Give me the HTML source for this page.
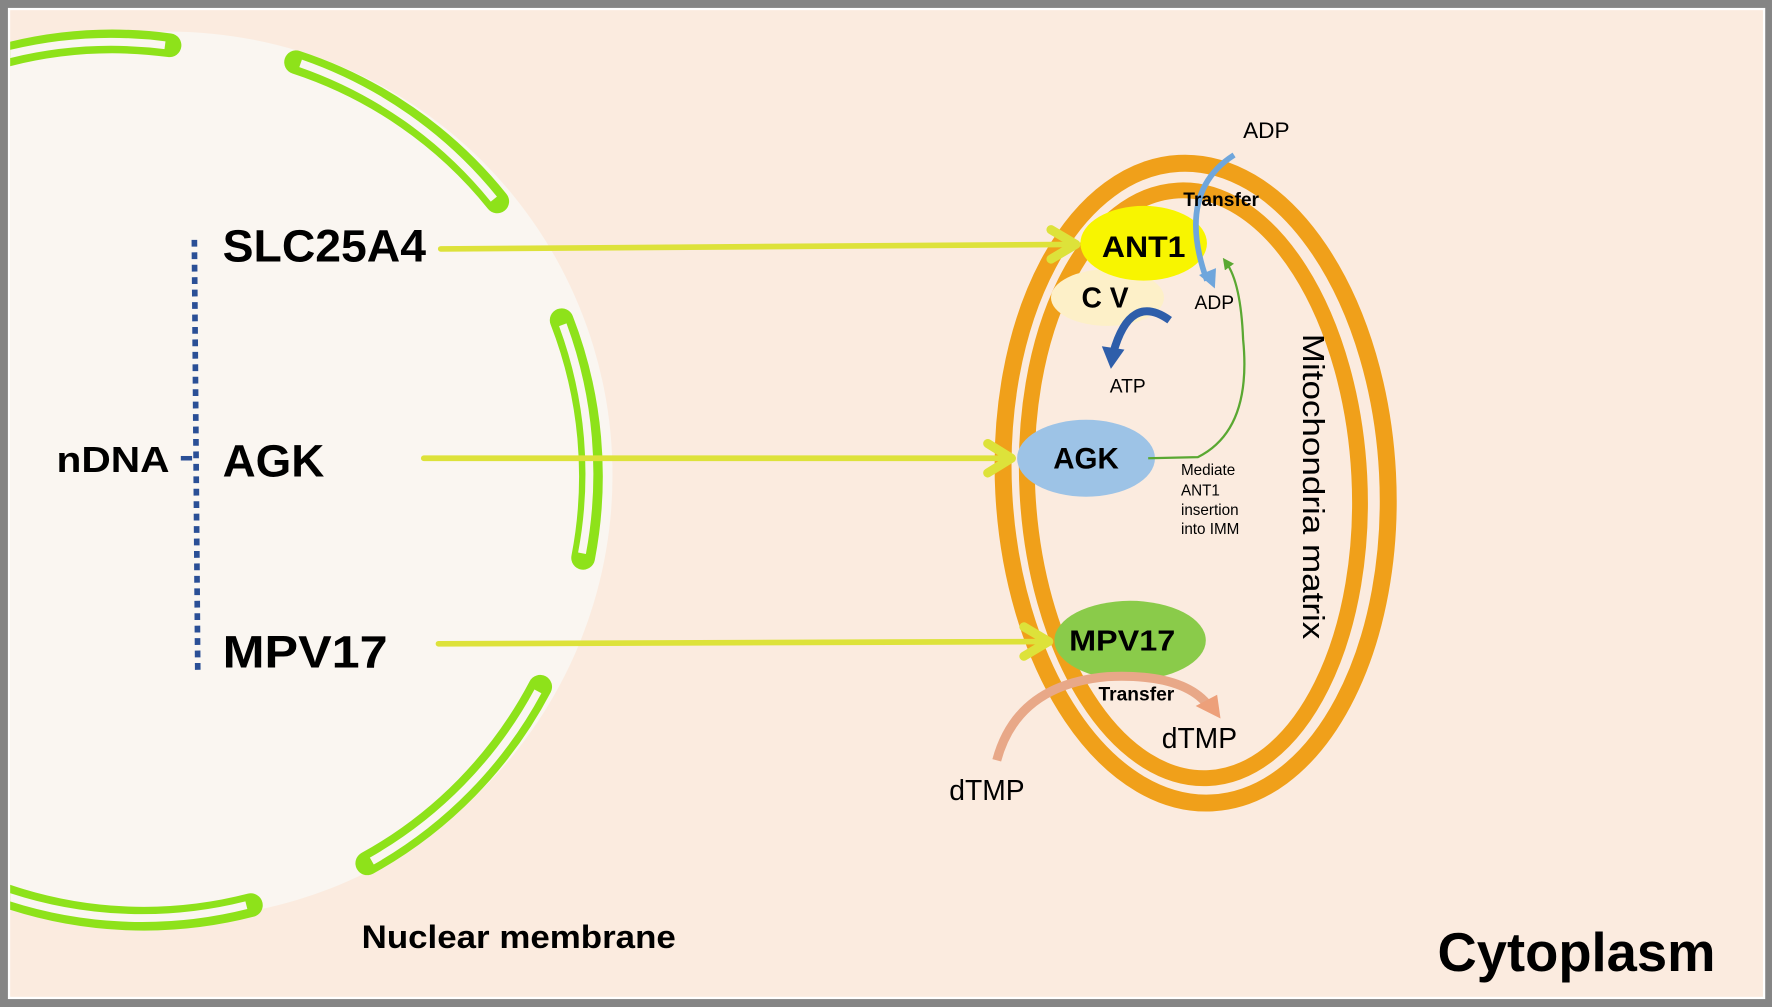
<!DOCTYPE html>
<html><head><meta charset="utf-8"><style>
html,body{margin:0;padding:0;background:#fff;}
svg{display:block;}
text{font-family:"Liberation Sans",sans-serif;fill:#000;}
</style></head><body>
<svg width="1772" height="1007" viewBox="0 0 1568 890" preserveAspectRatio="none" xmlns="http://www.w3.org/2000/svg">
<defs>
<marker id="g" markerWidth="10" markerHeight="10" refX="5" refY="5" orient="auto" markerUnits="userSpaceOnUse"><path d="M0,0 L10,5 L0,10 z" fill="#5aa832"/></marker>
</defs>
<rect x="0" y="0" width="1568" height="890" fill="#858585"/>
<rect x="7" y="7" width="1555" height="876" fill="#fff"/>
<rect x="9" y="9" width="1551" height="872" fill="#fbebdf"/>
<clipPath id="c"><rect x="9" y="9" width="1551" height="872"/></clipPath>
<g clip-path="url(#c)">
<circle cx="150" cy="420" r="392" fill="#faf6f1"/>
<g fill="none" stroke-linecap="round">
<g stroke="#8ee21a" stroke-width="21">
<path d="M0,50 A380,380 0 0 1 150,40"/>
<path d="M262,55 A380,380 0 0 1 440,178"/>
<path d="M497,283 A380,380 0 0 1 516,493"/>
<path d="M478,607 A380,380 0 0 1 325,763"/>
<path d="M0,790 A380,380 0 0 0 222,800"/>
</g>
<g stroke="#faf6f1" stroke-width="7" stroke-linecap="butt">
<path d="M0,50 A380,380 0 0 1 146,40"/>
<path d="M266,56 A380,380 0 0 1 437,176"/>
<path d="M498,287 A380,380 0 0 1 515,489"/>
<path d="M476,611 A380,380 0 0 1 329,761"/>
<path d="M0,790 A380,380 0 0 0 218,800"/>
</g>
</g>
</g>
<line x1="172" y1="212" x2="175" y2="594" stroke="#2a4f96" stroke-width="5" stroke-dasharray="6,5"/>
<line x1="160" y1="405" x2="170" y2="405" stroke="#2a4f96" stroke-width="4"/>
<text x="50" y="417" font-size="32" font-weight="bold" textLength="100" lengthAdjust="spacingAndGlyphs">nDNA</text>
<text x="197" y="231" font-size="40" font-weight="bold" textLength="180" lengthAdjust="spacingAndGlyphs">SLC25A4</text>
<text x="197" y="421" font-size="40" font-weight="bold" textLength="90" lengthAdjust="spacingAndGlyphs">AGK</text>
<text x="197" y="590" font-size="40" font-weight="bold" textLength="146" lengthAdjust="spacingAndGlyphs">MPV17</text>
<text x="320" y="838" font-size="29" font-weight="bold" textLength="278" lengthAdjust="spacingAndGlyphs">Nuclear membrane</text>
<text x="1272" y="858" font-size="48" font-weight="bold" textLength="246" lengthAdjust="spacingAndGlyphs">Cytoplasm</text>
<ellipse cx="1058" cy="427" rx="170" ry="283" fill="none" stroke="#f0a01a" stroke-width="15" transform="rotate(-3 1058 427)"/>
<ellipse cx="1056" cy="428" rx="147" ry="260" fill="none" stroke="#f0a01a" stroke-width="14" transform="rotate(-3 1056 428)"/>
<g stroke="#dde23a" stroke-width="5" fill="none" stroke-linecap="round" stroke-linejoin="round">
<line x1="390" y1="220" x2="950" y2="216"/>
<polyline points="930,203 952,216 930,229" stroke-width="8"/>
<line x1="375" y1="405" x2="893" y2="405"/>
<polyline points="874,392 895,405 874,418" stroke-width="8"/>
<line x1="388" y1="569" x2="925" y2="567"/>
<polyline points="906,554 928,567 906,580" stroke-width="8"/>
</g>
<ellipse cx="980" cy="263" rx="50" ry="25" fill="#fdf0c8"/>
<ellipse cx="1012" cy="215" rx="56" ry="33" fill="#f8f500"/>
<ellipse cx="961" cy="405" rx="61" ry="34" fill="#9dc3e6"/>
<ellipse cx="1000" cy="566" rx="67" ry="35" fill="#8acb4a"/>
<text x="975" y="227" font-size="26" font-weight="bold" textLength="74" lengthAdjust="spacingAndGlyphs">ANT1</text>
<text x="957" y="272" font-size="25" font-weight="bold">C V</text>
<text x="932" y="414" font-size="26" font-weight="bold" textLength="58" lengthAdjust="spacingAndGlyphs">AGK</text>
<text x="946" y="575" font-size="25" font-weight="bold" textLength="94" lengthAdjust="spacingAndGlyphs">MPV17</text>
<path d="M1092,137 Q1040,170 1068,248" fill="none" stroke="#6fa6dc" stroke-width="5"/>
<path d="M1061,243 L1075,255 L1076,237 z" fill="#6fa6dc"/>
<path d="M1035,283 Q1000,258 985,312" fill="none" stroke="#2e5eaa" stroke-width="7"/>
<path d="M975,306 L983,326 L995,309 z" fill="#2e5eaa"/>
<path d="M1016,405 L1060,404 Q1108,380 1100,300 Q1098,250 1085,232" fill="none" stroke="#5aa832" stroke-width="2" marker-end="url(#g)"/>
<path d="M882,672 Q900,605 980,598 Q1045,595 1068,622" fill="none" stroke="#e8a888" stroke-width="8"/>
<path d="M1058,624 L1080,635 L1077,614 z" fill="#eda07a"/>
<text x="1100" y="122" font-size="20">ADP</text>
<text x="1047" y="182" font-size="17" font-weight="bold">Transfer</text>
<text x="1057" y="273" font-size="17">ADP</text>
<text x="982" y="347" font-size="17">ATP</text>
<g font-size="13.5"><text x="1045" y="420">Mediate</text><text x="1045" y="438">ANT1</text><text x="1045" y="455">insertion</text><text x="1045" y="472">into IMM</text></g>
<text x="0" y="0" font-size="27" textLength="270" lengthAdjust="spacingAndGlyphs" transform="translate(1153,295) rotate(90)">Mitochondria matrix</text>
<text x="972" y="619" font-size="17" font-weight="bold">Transfer</text>
<text x="1028" y="661" font-size="25">dTMP</text>
<text x="840" y="707" font-size="25">dTMP</text>
</svg>
</body></html>
